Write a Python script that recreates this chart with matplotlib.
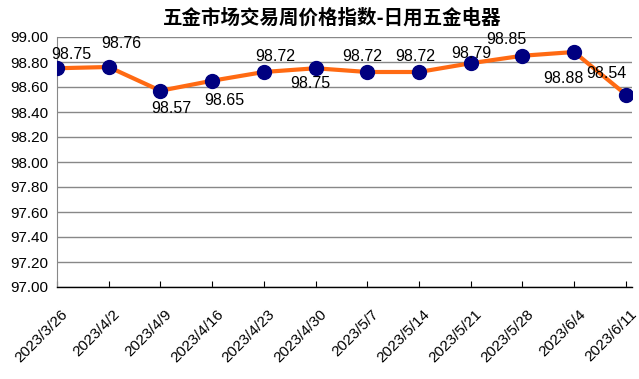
import matplotlib.pyplot as plt
import matplotlib.transforms as mtransforms

plt.rcParams['font.family'] = ['Liberation Sans', 'Noto Sans CJK SC', 'DejaVu Sans']

dates = ['2023/3/26', '2023/4/2', '2023/4/9', '2023/4/16', '2023/4/23', '2023/4/30',
         '2023/5/7', '2023/5/14', '2023/5/21', '2023/5/28', '2023/6/4', '2023/6/11']
values = [98.75, 98.76, 98.57, 98.65, 98.72, 98.75, 98.72, 98.72, 98.79, 98.85, 98.88, 98.54]
# label offsets in points (dx, dy)
label_offsets = [(10, 10), (9, 17), (8, -13), (8.6, -14.4), (8, 11), (-3.6, -11),
                 (-3.6, 11), (-3, 11), (0.7, 7), (-11.5, 11.5), (-8, -19), (-14, 15)]

fig = plt.figure(figsize=(6.39, 3.79), dpi=100)
ax = fig.add_axes([57/639, 1 - 287/379, (632 - 57)/639, 250/379])

x = list(range(len(dates)))
ax.plot(x, values, color='#FF6A13', lw=3, zorder=2)
ax.plot(x, values, 'o', color='#000080', ms=10, zorder=3)

for i, (v, off) in enumerate(zip(values, label_offsets)):
    ax.annotate(f'{v:.2f}', (i, v), xytext=off, textcoords='offset points',
                ha='center', va='center', fontsize=11.5, zorder=4)

ax.set_ylim(97.0, 99.0)
ax.set_yticks([97.0 + 0.2 * k for k in range(11)])
ax.set_yticklabels([f'{97.0 + 0.2 * k:.2f}' for k in range(11)])
ax.set_xlim(0, 11.12)
ax.set_xticks(x)
ax.set_xticklabels(dates, rotation=45, ha='right', rotation_mode='anchor')
ax.tick_params(axis='x', length=4, direction='in', labelsize=11, pad=6)
ax.tick_params(axis='y', length=0, labelsize=11, pad=6)
shift = mtransforms.ScaledTranslation(4/100, -12/100, fig.dpi_scale_trans)
for lbl in ax.get_xticklabels():
    lbl.set_transform(lbl.get_transform() + shift)
ax.grid(axis='y', color='#888888', lw=1)
ax.set_axisbelow(True)
for s in ['top', 'right']:
    ax.spines[s].set_visible(False)
ax.spines['left'].set_color('#888888')
ax.spines['bottom'].set_color('black')
ax.spines['bottom'].set_linewidth(1)

fig.text(332/639, 1 - 18/379, '五金市场交易周价格指数-日用五金电器', ha='center', va='center',
         fontsize=14, family=['Noto Sans CJK SC'], fontweight='bold')

fig.savefig('out.png', dpi=100)
